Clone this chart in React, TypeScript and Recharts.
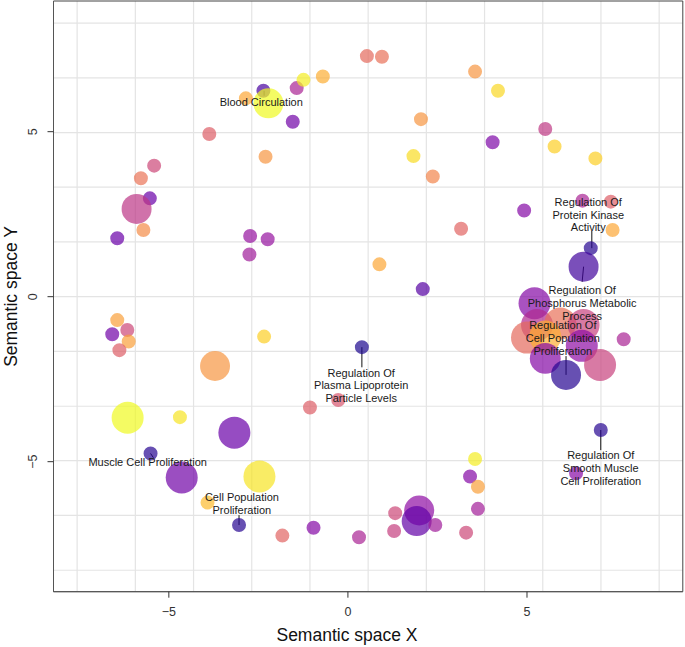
import React from 'react'
import {
  ScatterChart,
  Scatter,
  XAxis,
  YAxis,
  ZAxis,
  CartesianGrid,
  Cell,
  ReferenceLine,
  ReferenceDot,
  ReferenceArea,
} from 'recharts'

const FONT = '"Liberation Sans", Arial, Helvetica, sans-serif'

// GO terms placed in semantic space
const termX = [
  -2.85, -2.36, -2.22, -1.54, -1.43, -1.24, -0.7, -3.87, -2.3, -5.41, -5.78, -5.53, -5.9, -5.71, -6.44,
  -2.73, -2.24, -2.75, 0.53, 0.95, 3.55, 4.19, 2.04, 5.51, 4.04, 5.77, 1.83, 6.91, 2.37, 6.55, 7.34,
  4.92, 3.16, 7.39, 6.78, 6.58, 0.88, 2.09, 5.21, 5.28, 5.0, 5.93, 5.51, 6.58, 6.53, 5.51, 6.09, 7.04,
  7.7, 0.39, -0.27, -1.06, 7.06, 6.37, 3.55, 3.41, 3.63, 3.63, 1.99, 1.92, 2.44, 1.32, 1.29, 3.3, 0.31,
  -6.44, -6.58, -6.16, -6.12, -6.38, -2.34, -3.71, -6.15, -4.69, -3.17, -5.51, -4.64, -2.47, -3.92,
  -3.04, -1.83, -0.96,
]
const termY = [
  6.01, 6.24, 5.86, 5.3, 6.32, 6.57, 6.67, 4.93, 4.24, 3.97, 3.59, 2.98, 2.66, 2.02, 1.77,
  1.84, 1.74, 1.28, 7.29, 7.27, 6.82, 6.24, 5.38, 5.08, 4.68, 4.55, 4.26, 4.19, 3.64, 2.91, 2.88,
  2.61, 2.06, 2.02, 1.47, 0.91, 0.98, 0.23, -0.2, -0.86, -1.24, -0.81, -1.21, -0.86, -1.49, -1.87, -2.37, -2.07,
  -1.29, -1.53, -3.13, -3.36, -4.04, -5.35, -4.92, -5.45, -5.76, -6.43, -6.48, -6.8, -6.92, -6.56, -7.1, -7.15, -7.29,
  -0.71, -1.14, -1.01, -1.36, -1.62, -1.21, -2.1, -3.67, -3.65, -4.12, -4.75, -5.48, -5.45, -6.24,
  -6.92, -7.24, -7.0,
]
const termSize = [
  10, 10, 61, 10, 10, 10, 10, 10, 10, 10, 10, 10, 61, 10, 10,
  10, 10, 10, 10, 10, 10, 10, 10, 10, 10, 10, 10, 10, 10, 10, 10,
  10, 10, 10, 10, 61, 10, 10, 70, 70, 70, 70, 70, 70, 70, 65, 61, 70,
  10, 10, 10, 10, 10, 10, 10, 10, 10, 10, 61, 61, 10, 10, 10, 10, 10,
  10, 10, 10, 10, 10, 10, 61, 70, 10, 70, 10, 70, 70, 10,
  10, 10, 10,
]
// position on the plasma scale: 0 = dark blue, 1 = yellow
const termShade = [
  0.8, 0.12, 1.0, 0.22, 0.38, 0.97, 0.82, 0.58, 0.75, 0.5, 0.65, 0.2, 0.44, 0.72, 0.2,
  0.32, 0.32, 0.35, 0.62, 0.64, 0.75, 0.92, 0.75, 0.45, 0.25, 0.9, 0.93, 0.9, 0.7, 0.38, 0.58,
  0.27, 0.6, 0.8, 0.05, 0.1, 0.8, 0.15, 0.27, 0.4, 0.62, 0.64, 0.82, 0.48, 0.3, 0.27, 0.05, 0.48,
  0.38, 0.03, 0.55, 0.58, 0.05, 0.28, 0.97, 0.27, 0.78, 0.36, 0.3, 0.18, 0.35, 0.5, 0.47, 0.5, 0.38,
  0.78, 0.22, 0.5, 0.78, 0.58, 0.9, 0.75, 1.0, 0.95, 0.2, 0.05, 0.22, 0.95, 0.85,
  0.05, 0.6, 0.27,
]

const xTicks = [-5, 0, 5]
const yTicks = [-5, 0, 5]
const xGrid = [-7.56, -5.935, -4.31, -2.685, -1.06, 0.565, 2.19, 3.815, 5.44, 7.065, 8.69]
const yGrid = [-8.29, -6.63, -4.97, -3.32, -1.66, 0, 1.66, 3.32, 4.97, 6.63, 8.29]

// labelled terms
const labelLines = [
  ['Blood Circulation'],
  ['Regulation Of', 'Protein Kinase', 'Activity'],
  ['Regulation Of', 'Phosphorus Metabolic', 'Process'],
  ['Regulation Of', 'Cell Population', 'Proliferation'],
  ['Regulation Of', 'Plasma Lipoprotein', 'Particle Levels'],
  ['Muscle Cell Proliferation'],
  ['Cell Population', 'Proliferation'],
  ['Regulation Of', 'Smooth Muscle', 'Cell Proliferation'],
]
const labelX = [-2.42, 6.71, 6.54, 6.0, 0.37, -5.59, -2.96, 7.06]
const labelY = [5.9, 2.48, -0.19, -1.26, -2.69, -5.02, -6.27, -5.2]
const leaderFrom = [
  [-2.34, 6.24], [6.81, 1.47], [6.58, 0.91], [6.09, -2.37],
  [0.39, -1.53], [-5.51, -4.75], [-3.04, -6.92], [7.06, -4.04],
]
const leaderTo = [
  [-2.34, 6.09], [6.81, 1.99], [6.54, 0.45], [6.09, -1.8],
  [0.39, -2.14], [-5.43, -4.88], [-3.04, -6.62], [7.06, -4.65],
]

const X_DOMAIN: [number, number] = [-8.22, 9.35]
const Y_DOMAIN: [number, number] = [-8.94, 8.96]

const PLASMA = [
  '#0d0887', '#41049d', '#6a00a8', '#8f0da4', '#b12a90', '#cc4778',
  '#e16462', '#f2844b', '#fca636', '#fcce25', '#f0f921',
]

const hex = (c: string) => [1, 3, 5].map((i) => parseInt(c.slice(i, i + 2), 16))

function plasma(t: number) {
  const p = Math.max(0, Math.min(1, t)) * (PLASMA.length - 1)
  const i = Math.min(Math.floor(p), PLASMA.length - 2)
  const f = p - i
  const a = hex(PLASMA[i])
  const b = hex(PLASMA[i + 1])
  const c = a.map((v, k) => Math.round(v + (b[k] - v) * f))
  return `rgb(${c[0]},${c[1]},${c[2]})`
}

const terms = termX.map((x, i) => ({ x, y: termY[i], size: termSize[i], shade: termShade[i] }))

const fmt = (v: number) => (v < 0 ? '\u2212' + Math.abs(v) : String(v))

const XTick = ({ x, payload }: any) => (
  <text x={x} y={612} dy="0.35em" textAnchor="middle" fontSize={12.5} fontFamily={FONT} fill="#333">
    {fmt(payload.value)}
  </text>
)

const YTick = ({ y, payload }: any) => (
  <text
    x={32.5}
    y={y}
    dy="0.35em"
    textAnchor="middle"
    fontSize={12.5}
    fontFamily={FONT}
    fill="#333"
    transform={`rotate(-90, 32.5, ${y})`}
  >
    {fmt(payload.value)}
  </text>
)

const LabelText = ({ cx, cy, lines }: { cx: number; cy: number; lines: string[] }) => (
  <text textAnchor="middle" fontSize={11} fontFamily={FONT} fill="#1a1a1a">
    {lines.map((l, k) => (
      <tspan key={k} x={cx} y={cy + (k - (lines.length - 1) / 2) * 12.8} dy="0.35em">
        {l}
      </tspan>
    ))}
  </text>
)

export default function App() {
  return (
    <div style={{ position: 'fixed', left: 0, top: 0, width: 685, height: 647, background: '#fff' }}>
      <ScatterChart width={685} height={647} margin={{ top: 1, right: 2.2, bottom: 0, left: 0 }}>
        <CartesianGrid
          stroke="#e4e4e4"
          strokeWidth={1.2}
          verticalCoordinatesGenerator={({ offset }: any) =>
            xGrid.map((v) => offset.left + ((v - X_DOMAIN[0]) / (X_DOMAIN[1] - X_DOMAIN[0])) * offset.width)
          }
          horizontalCoordinatesGenerator={({ offset }: any) =>
            yGrid.map((v) => offset.top + ((Y_DOMAIN[1] - v) / (Y_DOMAIN[1] - Y_DOMAIN[0])) * offset.height)
          }
        />
        <XAxis
          type="number"
          dataKey="x"
          domain={X_DOMAIN}
          allowDataOverflow
          ticks={xTicks}
          height={55.3}
          tick={<XTick />}
          tickSize={6}
          tickLine={{ stroke: '#333' }}
          axisLine={{ stroke: '#555' }}
          label={{
            content: () => (
              <text x={347} y={635} dy="0.35em" textAnchor="middle" fontSize={17.5} fontFamily={FONT} fill="#111">
                Semantic space X
              </text>
            ),
          }}
        />
        <YAxis
          type="number"
          dataKey="y"
          domain={Y_DOMAIN}
          allowDataOverflow
          ticks={yTicks}
          width={53.5}
          tick={<YTick />}
          tickSize={6}
          tickLine={{ stroke: '#333' }}
          axisLine={{ stroke: '#555' }}
          label={{
            content: () => (
              <text
                x={11}
                y={296.5}
                dy="0.35em"
                textAnchor="middle"
                fontSize={17.5}
                fontFamily={FONT}
                fill="#111"
                transform="rotate(-90, 11, 296.5)"
              >
                Semantic space Y
              </text>
            ),
          }}
        />
        <ZAxis type="number" dataKey="size" domain={[10, 70]} range={[154, 804]} />
        <Scatter data={terms} isAnimationActive={false}>
          {terms.map((t, i) => (
            <Cell key={i} fill={plasma(t.shade)} fillOpacity={0.7} stroke="none" />
          ))}
        </Scatter>
        <ReferenceArea
          x1={X_DOMAIN[0]}
          x2={X_DOMAIN[1]}
          y1={Y_DOMAIN[0]}
          y2={Y_DOMAIN[1]}
          fill="none"
          stroke="#444"
          strokeWidth={1}
        />
        {leaderFrom.map((p, i) => (
          <ReferenceLine
            key={'seg' + i}
            segment={[
              { x: p[0], y: p[1] },
              { x: leaderTo[i][0], y: leaderTo[i][1] },
            ]}
            stroke="#111"
            strokeWidth={1}
          />
        ))}
        {labelLines.map((lines, i) => (
          <ReferenceDot
            key={'lab' + i}
            x={labelX[i]}
            y={labelY[i]}
            r={0}
            shape={(p: any) => <LabelText cx={p.cx} cy={p.cy} lines={lines} />}
          />
        ))}
      </ScatterChart>
    </div>
  )
}
